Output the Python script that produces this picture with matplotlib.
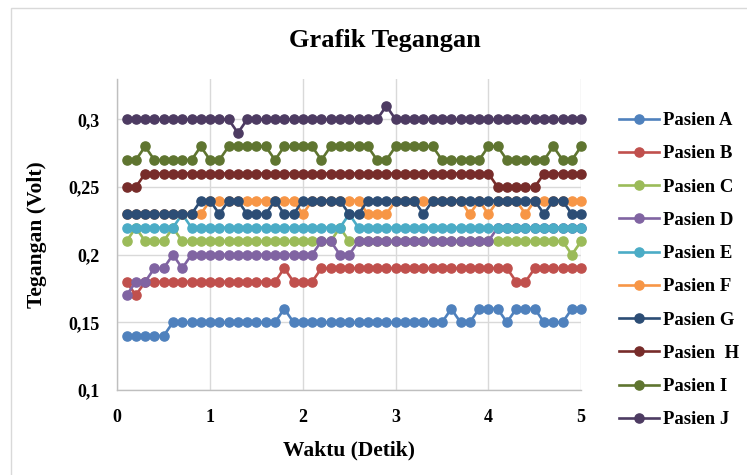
import matplotlib
matplotlib.use("Agg")
import matplotlib.pyplot as plt
from matplotlib.patches import Rectangle

plt.rcParams["font.family"] = ["Liberation Serif", "DejaVu Serif"]
plt.rcParams["font.weight"] = "bold"

# waktu 0,1 .. 5,0 detik
waktu = [round(0.1 * i, 1) for i in range(1, 51)]

pasien_a = [0.14, 0.14, 0.14, 0.14, 0.14, 0.15, 0.15, 0.15, 0.15, 0.15,
            0.15, 0.15, 0.15, 0.15, 0.15, 0.15, 0.15, 0.16, 0.15, 0.15,
            0.15, 0.15, 0.15, 0.15, 0.15, 0.15, 0.15, 0.15, 0.15, 0.15,
            0.15, 0.15, 0.15, 0.15, 0.15, 0.16, 0.15, 0.15, 0.16, 0.16,
            0.16, 0.15, 0.16, 0.16, 0.16, 0.15, 0.15, 0.15, 0.16, 0.16]
pasien_b = [0.18, 0.17, 0.18, 0.18, 0.18, 0.18, 0.18, 0.18, 0.18, 0.18,
            0.18, 0.18, 0.18, 0.18, 0.18, 0.18, 0.18, 0.19, 0.18, 0.18,
            0.18, 0.19, 0.19, 0.19, 0.19, 0.19, 0.19, 0.19, 0.19, 0.19,
            0.19, 0.19, 0.19, 0.19, 0.19, 0.19, 0.19, 0.19, 0.19, 0.19,
            0.19, 0.19, 0.18, 0.18, 0.19, 0.19, 0.19, 0.19, 0.19, 0.19]
pasien_c = [0.21, 0.22, 0.21, 0.21, 0.21, 0.22, 0.21, 0.21, 0.21, 0.21,
            0.21, 0.21, 0.21, 0.21, 0.21, 0.21, 0.21, 0.21, 0.21, 0.21,
            0.21, 0.21, 0.21, 0.22, 0.21, 0.21, 0.21, 0.21, 0.21, 0.21,
            0.21, 0.21, 0.21, 0.21, 0.21, 0.21, 0.21, 0.21, 0.21, 0.21,
            0.21, 0.21, 0.21, 0.21, 0.21, 0.21, 0.21, 0.21, 0.20, 0.21]
pasien_d = [0.17, 0.18, 0.18, 0.19, 0.19, 0.20, 0.19, 0.20, 0.20, 0.20,
            0.20, 0.20, 0.20, 0.20, 0.20, 0.20, 0.20, 0.20, 0.20, 0.20,
            0.20, 0.21, 0.21, 0.20, 0.20, 0.21, 0.21, 0.21, 0.21, 0.21,
            0.21, 0.21, 0.21, 0.21, 0.21, 0.21, 0.21, 0.21, 0.21, 0.21,
            0.22, 0.22, 0.22, 0.22, 0.22, 0.22, 0.22, 0.22, 0.22, 0.22]
pasien_e = [0.22, 0.22, 0.22, 0.22, 0.22, 0.22, 0.23, 0.22, 0.22, 0.22,
            0.22, 0.22, 0.22, 0.22, 0.22, 0.22, 0.22, 0.22, 0.22, 0.22,
            0.22, 0.22, 0.22, 0.22, 0.23, 0.22, 0.22, 0.22, 0.22, 0.22,
            0.22, 0.22, 0.22, 0.22, 0.22, 0.22, 0.22, 0.22, 0.22, 0.22,
            0.22, 0.22, 0.22, 0.22, 0.22, 0.22, 0.22, 0.22, 0.22, 0.22]
pasien_f = [0.23, 0.23, 0.23, 0.23, 0.23, 0.23, 0.23, 0.23, 0.23, 0.24,
            0.24, 0.24, 0.24, 0.24, 0.24, 0.24, 0.24, 0.24, 0.24, 0.23,
            0.24, 0.24, 0.24, 0.24, 0.24, 0.24, 0.23, 0.23, 0.23, 0.24,
            0.24, 0.24, 0.24, 0.24, 0.24, 0.24, 0.24, 0.23, 0.24, 0.23,
            0.24, 0.24, 0.24, 0.23, 0.24, 0.24, 0.24, 0.24, 0.24, 0.24]
pasien_g = [0.23, 0.23, 0.23, 0.23, 0.23, 0.23, 0.23, 0.23, 0.24, 0.24,
            0.23, 0.24, 0.24, 0.23, 0.23, 0.23, 0.24, 0.23, 0.23, 0.24,
            0.24, 0.24, 0.24, 0.24, 0.23, 0.23, 0.24, 0.24, 0.24, 0.24,
            0.24, 0.24, 0.23, 0.24, 0.24, 0.24, 0.24, 0.24, 0.24, 0.24,
            0.24, 0.24, 0.24, 0.24, 0.24, 0.23, 0.24, 0.24, 0.23, 0.23]
pasien_h = [0.25, 0.25, 0.26, 0.26, 0.26, 0.26, 0.26, 0.26, 0.26, 0.26,
            0.26, 0.26, 0.26, 0.26, 0.26, 0.26, 0.26, 0.26, 0.26, 0.26,
            0.26, 0.26, 0.26, 0.26, 0.26, 0.26, 0.26, 0.26, 0.26, 0.26,
            0.26, 0.26, 0.26, 0.26, 0.26, 0.26, 0.26, 0.26, 0.26, 0.26,
            0.25, 0.25, 0.25, 0.25, 0.25, 0.26, 0.26, 0.26, 0.26, 0.26]
pasien_i = [0.27, 0.27, 0.28, 0.27, 0.27, 0.27, 0.27, 0.27, 0.28, 0.27,
            0.27, 0.28, 0.28, 0.28, 0.28, 0.28, 0.27, 0.28, 0.28, 0.28,
            0.28, 0.27, 0.28, 0.28, 0.28, 0.28, 0.28, 0.27, 0.27, 0.28,
            0.28, 0.28, 0.28, 0.28, 0.27, 0.27, 0.27, 0.27, 0.27, 0.28,
            0.28, 0.27, 0.27, 0.27, 0.27, 0.27, 0.28, 0.27, 0.27, 0.28]
pasien_j = [0.30, 0.30, 0.30, 0.30, 0.30, 0.30, 0.30, 0.30, 0.30, 0.30,
            0.30, 0.30, 0.29, 0.30, 0.30, 0.30, 0.30, 0.30, 0.30, 0.30,
            0.30, 0.30, 0.30, 0.30, 0.30, 0.30, 0.30, 0.30, 0.31, 0.30,
            0.30, 0.30, 0.30, 0.30, 0.30, 0.30, 0.30, 0.30, 0.30, 0.30,
            0.30, 0.30, 0.30, 0.30, 0.30, 0.30, 0.30, 0.30, 0.30, 0.30]

labels = ["Pasien A", "Pasien B", "Pasien C", "Pasien D", "Pasien E",
          "Pasien F", "Pasien G", "Pasien  H", "Pasien I", "Pasien J"]
series = [pasien_a, pasien_b, pasien_c, pasien_d, pasien_e,
          pasien_f, pasien_g, pasien_h, pasien_i, pasien_j]
colors = ["#4F81BD", "#C0504D", "#9BBB59", "#8064A2", "#4BACC6",
          "#F79646", "#2C4D75", "#772C2A", "#5F7530", "#4D3B62"]

yticks = [0.1, 0.15, 0.2, 0.25, 0.3]
ytick_labels = ["0,1", "0,15", "0,2", "0,25", "0,3"]
xticks = [0, 1, 2, 3, 4, 5]

fig = plt.figure(figsize=(7.47, 4.75), dpi=100)
ax = fig.add_axes([0.157, 0.179, 0.621, 0.655])

for vals, lab, col in zip(series, labels, colors):
    ax.plot(waktu, vals, color=col, lw=1.9, marker="o", markersize=6.6,
            label=lab, clip_on=False, zorder=3)

ax.set_xlim(0, 5)
ax.set_ylim(0.1, 0.33)
ax.set_xticks(xticks)
ax.set_yticks(yticks)
ax.set_yticklabels(ytick_labels)
ax.tick_params(length=0, labelsize=13, pad=13)
ax.tick_params(axis="x", pad=14)
ax.grid(True, color="#D9D9D9", lw=1.0)
ax.set_axisbelow(True)
for side in ["top", "right"]:
    ax.spines[side].set_visible(False)
for side in ["left", "bottom"]:
    ax.spines[side].set_color("#BFBFBF")
    ax.spines[side].set_linewidth(1.0)

ax.set_xlabel("Waktu (Detik)", fontsize=15.5, fontweight="bold", labelpad=10)
ax.set_ylabel("Tegangan (Volt)", fontsize=15.5, fontweight="bold", labelpad=15)
fig.text(0.515, 0.915, "Grafik Tegangan", fontsize=19, fontweight="bold",
         ha="center", va="center")

leg = fig.legend(loc="upper left", bbox_to_anchor=(0.818, 0.78), frameon=False,
                 fontsize=13.5, handlelength=2.15, handletextpad=0.2,
                 labelspacing=0.86, numpoints=1, borderaxespad=0)

# border of the chart area
fig.patches.append(Rectangle((11 / 747, -0.02), 1.05, 1 - 8 / 475 + 0.02,
                             transform=fig.transFigure, fill=False,
                             edgecolor="#D9D9D9", lw=1.0))

fig.savefig("out.png", dpi=100)
